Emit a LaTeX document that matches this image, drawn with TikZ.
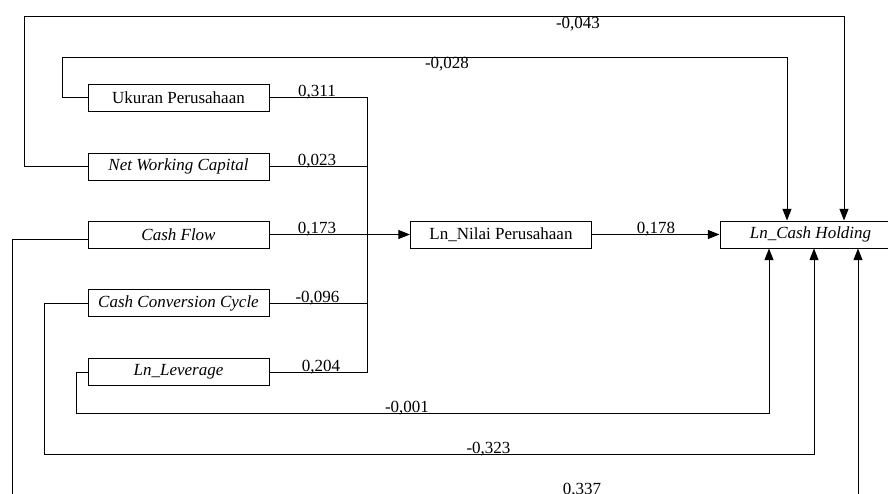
\documentclass[tikz,border=0pt]{standalone}
\usepackage{fontspec}
\setmainfont{Liberation Serif}
\usetikzlibrary{arrows.meta,calc}
\begin{document}
\begin{tikzpicture}[
x=0.6pt,
y=-0.6pt,
font=\fontsize{10.2}{12}\selectfont,
line width=0.6pt,
>={Triangle[length=7pt,width=5.4pt]}
]

\tikzstyle{v} = [draw, shape=rectangle, minimum width=108.6pt, minimum height=16.2pt, inner sep=0pt]
\tikzstyle{w} = [anchor=base, inner sep=0pt]

\useasboundingbox (0,0) rectangle (888,493);

\node[v] (uk) at (178.5,97.5) {Ukuran Perusahaan};
\node[v] (nwc) at (178.5,166.5) {\textit{Net Working Capital}};
\node[v] (cf) at (178.5,234.5) {\textit{Cash Flow}};
\node[v] (ccc) at (178.5,303) {\textit{Cash Conversion Cycle}};
\node[v] (lev) at (178.5,372) {\textit{Ln\_Leverage}};
\node[v] (nil) at (501,234.5) {Ln\_Nilai Perusahaan};
\node[v] (ch) at (810.5,234.5) {\textit{Ln\_Cash Holding}};

\coordinate (bx) at (367,0);
\coordinate (t1) at (24,16);
\coordinate (t2) at (62,57);
\coordinate (t3) at (76,413);
\coordinate (t4) at (44,454);
\coordinate (t5) at (12,495.5);

\draw (uk.east) -- (uk.east -| bx) -- (lev.east -| bx) -- (lev.east);
\draw (nwc.east) -- (nwc.east -| bx);
\draw (ccc.east) -- (ccc.east -| bx);
\draw[->] (cf.east) -- (nil.west);
\draw[->] (nil.east) -- (ch.west);

\draw[->] (nwc.west) -| (t1) -| ($(ch.north)+(33.5,0)$);
\draw[->] (uk.west) -| (t2) -| ($(ch.north)+(-23.5,0)$);
\draw[->] (lev.west) -| (t3) -| ($(ch.south)+(-41.5,0)$);
\draw[->] (ccc.west) -| (t4) -| ($(ch.south)+(3.5,0)$);
\draw[->] ($(cf.west)+(0,5)$) -| (t5) -| ($(ch.south)+(47.5,0)$);

\node[w] (w1) at (317,96) {0,311};
\node[w] (w2) at (317,165) {0,023};
\node[w] (w3) at (317,233.5) {0,173};
\node[w] (w4) at (317.5,302) {-0,096};
\node[w] (w5) at (321,371) {0,204};
\node[w] (w6) at (656,233.5) {0,178};
\node[w] (w7) at (578,28) {-0,043};
\node[w] (w8) at (447,68) {-0,028};
\node[w] (w9) at (407,412) {-0,001};
\node[w] (w10) at (488.5,453) {-0,323};
\node[w] (w11) at (582,494) {0,337};

\end{tikzpicture}
\end{document}
